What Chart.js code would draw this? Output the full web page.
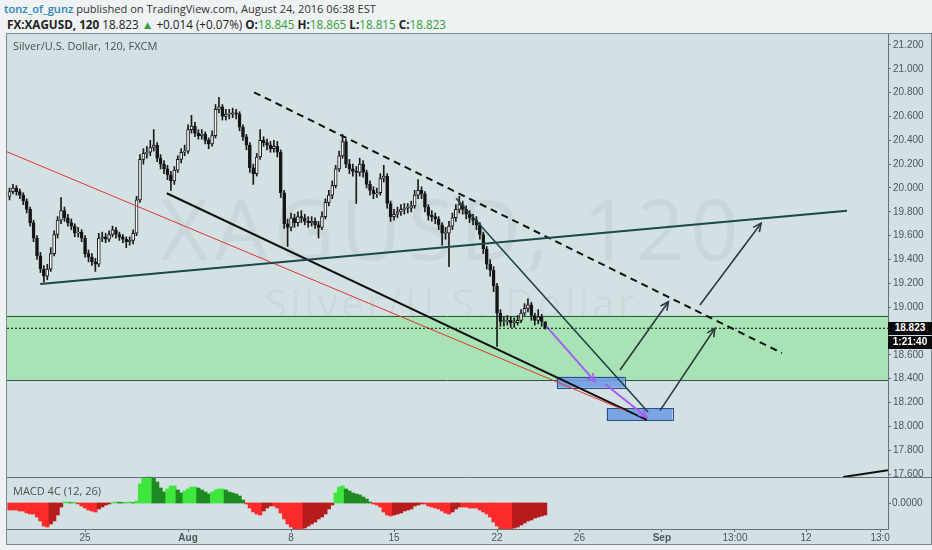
<!DOCTYPE html>
<html>
<head>
<meta charset="utf-8">
<script src="https://cdn.jsdelivr.net/npm/chart.js"></script>
<style>
  html, body { margin: 0; padding: 0; background: #eef2f3; }
  body { width: 932px; height: 550px; position: relative; overflow: hidden; font-family: "Open Sans", sans-serif; }
  #hdr1 { position: absolute; left: 4px; top: 1px; font-size: 11.1px; color: #333; white-space: nowrap; }
  #hdr1 .user { color: #2a80b9; font-weight: 600; }
  #hdr2 { position: absolute; left: 7px; top: 16px; font-size: 11.7px; color: #222; white-space: nowrap; }
  #hdr2 b { font-weight: 700; }
  #hdr2 .g { color: #35a03a; }
  #frame { position: absolute; left: 6px; top: 33px; width: 926px; height: 512px; background: #d3e1e4; border: 1px solid #7d888c; box-sizing: border-box; }
  #wm1 { position: absolute; left: 160px; top: 170px; font-size: 84px; letter-spacing: 6px; color: rgba(0,0,0,0.045); white-space: nowrap; }
  #wm2 { position: absolute; left: 265px; top: 275px; font-size: 40px; letter-spacing: 3.5px; color: rgba(0,0,0,0.045); white-space: nowrap; }
  canvas { position: absolute; left: 0; top: 0; }
  .pane { position: absolute; left: 13px; font-size: 11px; color: #4a4f52; white-space: nowrap; }
  .tag { position: absolute; left: 888px; width: 44px; height: 13px; line-height: 13px; background: #0b0b0b; color: #fff; font: bold 10px "Liberation Sans", Arial, sans-serif; text-align: center; }
  #macdZero { position: absolute; left: 892px; font: 10px "Liberation Sans", Arial, sans-serif; color: #4d5558; }
</style>
</head>
<body>
<div id="hdr1"><span class="user">tonz_of_gunz</span> published on TradingView.com, August 24, 2016 06:38 EST</div>
<div id="hdr2"><b>FX:XAGUSD, 120</b> 18.823 <span class="g">▲</span> +0.014 (+0.07%) <b>O:</b><span class="g">18.845</span> <b>H:</b><span class="g">18.865</span> <b>L:</b><span class="g">18.815</span> <b>C:</b><span class="g">18.823</span></div>
<div id="frame"></div>
<div id="wm1">XAGUSD, 120</div>
<div id="wm2">Silver/U.S. Dollar</div>
<canvas id="chart" width="932" height="550"></canvas>
<div class="pane" style="top:38px">Silver/U.S. Dollar, 120, FXCM</div>
<div class="pane" style="top:483px">MACD 4C (12, 26)</div>
<div class="tag" id="lastTag">18.823</div>
<div class="tag" id="timeTag">1:21:40</div>
<div id="macdZero">0.0000</div>
<script>
// 4h candles, x = trading days counted from Mon 25 Jul 2016
const firstBarDay = -3.667;
const firstOpen = 19.93;

const closes = [19.97, 20.00, 19.97, 19.94, 19.89, 19.82, 19.71, 19.58, 19.43, 19.32,
  19.26, 19.32, 19.45, 19.61, 19.73, 19.81, 19.75, 19.71, 19.68, 19.62,
  19.63, 19.58, 19.45, 19.42, 19.38, 19.36, 19.58, 19.59, 19.57, 19.61,
  19.65, 19.61, 19.59, 19.57, 19.55, 19.56, 19.62, 19.90, 20.24, 20.29,
  20.30, 20.34, 20.36, 20.25, 20.20, 20.16, 20.11, 20.06, 20.15, 20.24,
  20.30, 20.31, 20.49, 20.52, 20.46, 20.44, 20.45, 20.40, 20.37, 20.44,
  20.66, 20.68, 20.60, 20.62, 20.62, 20.63, 20.62, 20.51, 20.43, 20.36,
  20.17, 20.12, 20.26, 20.40, 20.38, 20.36, 20.33, 20.35, 20.30, 19.96,
  19.70, 19.67, 19.75, 19.71, 19.76, 19.75, 19.72, 19.71, 19.72, 19.69,
  19.67, 19.76, 19.88, 19.94, 20.02, 20.16, 20.27, 20.39, 20.20, 20.16,
  20.14, 20.13, 20.20, 20.13, 20.03, 19.98, 19.95, 19.96, 20.08, 20.10,
  19.87, 19.76, 19.78, 19.80, 19.82, 19.83, 19.83, 19.85, 19.94, 19.98,
  19.95, 19.84, 19.77, 19.76, 19.74, 19.69, 19.62, 19.62, 19.68, 19.75,
  19.82, 19.86, 19.82, 19.78, 19.75, 19.73, 19.69, 19.61, 19.49, 19.36,
  19.31, 19.18, 18.95, 18.88, 18.88, 18.89, 18.87, 18.87, 18.89, 18.95,
  18.99, 19.02, 18.93, 18.89, 18.92, 18.88, 18.823];

const highs = [20.00, 20.03, 20.02, 19.99, 19.96, 19.91, 19.84, 19.73, 19.60, 19.46,
  19.35, 19.36, 19.50, 19.64, 19.76, 19.92, 19.84, 19.78, 19.74, 19.70,
  19.67, 19.65, 19.60, 19.48, 19.45, 19.41, 19.62, 19.63, 19.62, 19.64,
  19.68, 19.67, 19.63, 19.61, 19.59, 19.59, 19.65, 19.93, 20.28, 20.33,
  20.35, 20.40, 20.49, 20.38, 20.28, 20.23, 20.19, 20.14, 20.18, 20.27,
  20.33, 20.36, 20.53, 20.61, 20.55, 20.49, 20.49, 20.47, 20.42, 20.48,
  20.70, 20.76, 20.70, 20.66, 20.66, 20.67, 20.66, 20.64, 20.53, 20.45,
  20.38, 20.20, 20.29, 20.49, 20.43, 20.41, 20.39, 20.40, 20.39, 20.32,
  19.98, 19.74, 19.79, 19.78, 19.80, 19.81, 19.78, 19.76, 19.76, 19.75,
  19.72, 19.80, 19.91, 19.98, 20.06, 20.19, 20.31, 20.45, 20.41, 20.24,
  20.20, 20.18, 20.25, 20.23, 20.15, 20.06, 20.01, 20.00, 20.12, 20.19,
  20.12, 19.89, 19.82, 19.84, 19.86, 19.87, 19.87, 19.89, 19.98, 20.07,
  20.01, 19.97, 19.86, 19.81, 19.79, 19.76, 19.71, 19.67, 19.72, 19.79,
  19.86, 19.93, 19.89, 19.85, 19.81, 19.78, 19.76, 19.71, 19.63, 19.51,
  19.40, 19.34, 19.20, 18.98, 18.92, 18.93, 18.92, 18.91, 18.93, 18.98,
  19.03, 19.07, 19.04, 18.95, 18.98, 18.94, 18.865];

const lows = [19.90, 19.95, 19.94, 19.91, 19.86, 19.79, 19.68, 19.55, 19.40, 19.29,
  19.21, 19.23, 19.30, 19.43, 19.58, 19.70, 19.72, 19.68, 19.65, 19.59,
  19.59, 19.55, 19.42, 19.38, 19.35, 19.30, 19.34, 19.55, 19.54, 19.55,
  19.59, 19.58, 19.56, 19.54, 19.50, 19.52, 19.53, 19.60, 19.88, 20.20,
  20.25, 20.27, 20.31, 20.22, 20.16, 20.12, 20.07, 19.98, 20.03, 20.13,
  20.21, 20.27, 20.29, 20.46, 20.43, 20.41, 20.41, 20.37, 20.33, 20.35,
  20.42, 20.63, 20.57, 20.57, 20.58, 20.59, 20.58, 20.48, 20.40, 20.32,
  20.13, 20.03, 20.10, 20.24, 20.35, 20.32, 20.30, 20.30, 20.26, 19.92,
  19.66, 19.51, 19.64, 19.67, 19.68, 19.71, 19.69, 19.67, 19.68, 19.66,
  19.58, 19.65, 19.74, 19.85, 19.91, 20.00, 20.14, 20.25, 20.17, 20.12,
  20.10, 19.87, 20.10, 20.09, 20.00, 19.94, 19.91, 19.92, 19.94, 20.05,
  19.83, 19.72, 19.73, 19.75, 19.77, 19.78, 19.79, 19.80, 19.83, 19.91,
  19.91, 19.80, 19.73, 19.72, 19.70, 19.65, 19.52, 19.57, 19.34, 19.65,
  19.72, 19.79, 19.78, 19.74, 19.71, 19.69, 19.65, 19.57, 19.45, 19.32,
  19.26, 19.13, 18.67, 18.84, 18.84, 18.85, 18.83, 18.83, 18.85, 18.87,
  18.93, 18.96, 18.89, 18.85, 18.86, 18.84, 18.815];

const macdHist = [-0.035, -0.035, -0.035, -0.04, -0.04, -0.05, -0.055, -0.055, -0.07, -0.09,
  -0.115, -0.12, -0.105, -0.09, -0.06, -0.02, 0.005, 0.005, 0.002, 0.004,
  -0.005, -0.015, -0.025, -0.035, -0.04, -0.045, -0.03, -0.02, -0.01, -0.005,
  0.002, 0.005, 0.004, 0.002, 0.004, 0.005, 0.002, 0.01, 0.095, 0.125,
  0.13, 0.13, 0.125, 0.105, 0.075, 0.055, 0.07, 0.085, 0.085, 0.065,
  0.05, 0.06, 0.07, 0.08, 0.08, 0.075, 0.065, 0.055, 0.045, 0.055,
  0.065, 0.07, 0.07, 0.065, 0.055, 0.05, 0.045, 0.035, 0.015, -0.005,
  -0.025, -0.045, -0.055, -0.06, -0.04, -0.025, -0.015, -0.015, -0.025, -0.05,
  -0.08, -0.105, -0.12, -0.13, -0.13, -0.13, -0.125, -0.115, -0.105, -0.095,
  -0.08, -0.07, -0.055, -0.03, -0.01, 0.05, 0.08, 0.085, 0.07, 0.06,
  0.05, 0.045, 0.04, 0.03, 0.02, 0.005, -0.005, -0.01, -0.02, -0.045,
  -0.06, -0.065, -0.06, -0.055, -0.05, -0.04, -0.035, -0.03, -0.015, -0.01,
  -0.005, -0.005, -0.015, -0.02, -0.025, -0.03, -0.04, -0.05, -0.055, -0.045,
  -0.03, -0.02, -0.02, -0.02, -0.025, -0.025, -0.025, -0.035, -0.045, -0.055,
  -0.07, -0.095, -0.115, -0.13, -0.13, -0.13, -0.13, -0.125, -0.12, -0.11,
  -0.1, -0.09, -0.085, -0.075, -0.07, -0.065, -0.06];

const priceTicks = [17.6, 17.8, 18.0, 18.2, 18.4, 18.6, 18.8, 19.0, 19.2, 19.4,
  19.6, 19.8, 20.0, 20.2, 20.4, 20.6, 20.8, 21.0, 21.2];
const dayTicks = [0, 5, 10, 15, 20, 24, 28, 31.55, 35, 38.6];
const dayTickLabels = ['25', 'Aug', '8', '15', '22', '26', 'Sep', '13:00', '12', '13:0'];

const lastPrice = 18.823;
const xMin = -3.79, xMax = 38.98;
const priceMin = 17.139, priceMax = 21.292;
const macdMin = -0.13, macdMax = 2.345, macdPaneTop = 0.13;

// drawings: [day, price] points
const zoneRange = [18.39, 18.93];
const boxes = [[22.90, 18.417, 26.18, 18.325], [25.32, 18.152, 28.51, 18.048]];
const supportLine = [[-2.18, 19.195], [36.99, 19.81]];
const redLine = [[-3.806, 20.305], [26.26, 18.13]];
const lowerLine = [[3.966, 19.956], [27.27, 18.054]];
const resistanceLine = [[8.204, 20.803], [33.83, 18.615]];
const dropLine = [[18.01, 19.914], [27.33, 18.121]];
const cornerLine = [[36.80, 17.575], [38.98, 17.632]];
const purpleArrows = [[[22.41, 18.837], [24.76, 18.375]], [[25.24, 18.356], [27.27, 18.077]]];
const upArrows = [[[25.97, 18.473], [28.32, 19.046]], [[27.91, 18.132], [30.58, 18.823]], [[29.85, 19.019], [32.82, 19.704]]];

const barTimes = closes.map((c, i) => firstBarDay + i / 6);
const opens = closes.map((c, i) => i ? closes[i - 1] : firstOpen);

function lineSet(points, color, width, dash) {
    return {
        type: 'line',
        data: points.map(p => ({ x: p[0], y: p[1] })),
        borderColor: color,
        borderWidth: width,
        borderDash: dash || [],
        pointRadius: 0,
        fill: false,
        tension: 0,
        order: 1
    };
}

const axisColor = '#66717a';
const tickFont = { family: 'Liberation Sans', size: 10 };

const drawings = {
    id: 'drawings',
    beforeDatasetsDraw(chart) {
        const { ctx, chartArea: a, scales: { x, y } } = chart;
        ctx.save();
        const zt = y.getPixelForValue(zoneRange[1]), zb = y.getPixelForValue(zoneRange[0]);
        ctx.fillStyle = '#a8e3b6';
        ctx.fillRect(a.left, zt, a.right - a.left, zb - zt);
        ctx.strokeStyle = '#2d5640';
        ctx.lineWidth = 1;
        ctx.beginPath();
        ctx.moveTo(a.left, Math.round(zt) + 0.5); ctx.lineTo(a.right, Math.round(zt) + 0.5);
        ctx.moveTo(a.left, Math.round(zb) + 0.5); ctx.lineTo(a.right, Math.round(zb) + 0.5);
        ctx.stroke();
        boxes.forEach(b => {
            const x0 = x.getPixelForValue(b[0]), y0 = y.getPixelForValue(b[1]);
            const x1 = x.getPixelForValue(b[2]), y1 = y.getPixelForValue(b[3]);
            ctx.fillStyle = 'rgba(112,158,226,0.9)';
            ctx.fillRect(x0, y0, x1 - x0, y1 - y0);
            ctx.strokeStyle = '#2d4f86';
            ctx.strokeRect(Math.round(x0) + 0.5, Math.round(y0) + 0.5, Math.round(x1 - x0), Math.round(y1 - y0));
        });
        ctx.restore();
    },
    afterDatasetsDraw(chart) {
        const { ctx, scales: { x, y } } = chart;
        ctx.save();
        const head = (arr, color) => arr.forEach(([p, q]) => {
            const x0 = x.getPixelForValue(p[0]), y0 = y.getPixelForValue(p[1]);
            const x1 = x.getPixelForValue(q[0]), y1 = y.getPixelForValue(q[1]);
            const ang = Math.atan2(y1 - y0, x1 - x0);
            ctx.strokeStyle = color;
            ctx.lineWidth = 1.6;
            ctx.beginPath();
            ctx.moveTo(x1 - 9 * Math.cos(ang - 0.45), y1 - 9 * Math.sin(ang - 0.45));
            ctx.lineTo(x1, y1);
            ctx.lineTo(x1 - 9 * Math.cos(ang + 0.45), y1 - 9 * Math.sin(ang + 0.45));
            ctx.stroke();
        });
        head(purpleArrows, '#a55cf2');
        head(upArrows, '#2b3a3c');
        ctx.restore();
    },
    afterDraw(chart) {
        const { ctx, chartArea: a, scales: { yMacd } } = chart;
        ctx.save();
        ctx.strokeStyle = axisColor;
        ctx.lineWidth = 1;
        const sep = Math.round(yMacd.getPixelForValue(macdPaneTop)) + 0.5;
        const zero = Math.round(yMacd.getPixelForValue(0)) + 0.5;
        ctx.beginPath();
        ctx.moveTo(a.left, sep); ctx.lineTo(chart.width, sep);
        ctx.moveTo(a.right, zero); ctx.lineTo(a.right + 3, zero);
        ctx.stroke();
        ctx.restore();
    }
};

const chart = new Chart(document.getElementById('chart'), {
    type: 'bar',
    data: {
        datasets: [
            {
                data: barTimes.map((t, i) => ({ x: t, y: [lows[i], highs[i]] })),
                backgroundColor: '#1a1a1a',
                barThickness: 1,
                grouped: false,
                order: 6
            },
            {
                data: barTimes.map((t, i) => ({ x: t, y: [opens[i], closes[i]] })),
                backgroundColor: c => closes[c.dataIndex] >= opens[c.dataIndex] ? '#f4f4f4' : '#141414',
                borderColor: '#1a1a1a',
                borderWidth: 1,
                borderSkipped: false,
                minBarLength: 1,
                barThickness: 3,
                grouped: false,
                order: 5
            },
            {
                yAxisID: 'yMacd',
                data: barTimes.map((t, i) => ({ x: t, y: macdHist[i] })),
                backgroundColor: c => {
                    const i = c.dataIndex, v = macdHist[i], prev = i ? macdHist[i - 1] : v;
                    if (v >= 0) return v >= prev ? '#3ee63e' : '#1f8a22';
                    return v > prev ? '#b71c1c' : '#fb2b2b';
                },
                barThickness: 3.6,
                grouped: false,
                order: 6
            },
            lineSet([[xMin, lastPrice], [xMax, lastPrice]], '#111', 1, [2, 2]),
            lineSet(supportLine, '#1d4848', 2),
            lineSet(redLine, '#e2342c', 1),
            lineSet(lowerLine, '#111', 2),
            lineSet(resistanceLine, '#111', 2, [7, 5]),
            lineSet(dropLine, '#1e4444', 1.6),
            lineSet(cornerLine, '#111', 2),
            ...purpleArrows.map(a => lineSet(a, '#a55cf2', 2)),
            ...upArrows.map(a => lineSet(a, '#2b3a3c', 1.6))
        ]
    },
    options: {
        responsive: false,
        animation: false,
        devicePixelRatio: 1,
        layout: { padding: { left: 7, top: 34, right: 0, bottom: 6 } },
        plugins: { legend: { display: false }, tooltip: { enabled: false } },
        scales: {
            x: {
                type: 'linear',
                min: xMin,
                max: xMax,
                offset: false,
                afterBuildTicks: s => { s.ticks = dayTicks.map(v => ({ value: v })); },
                afterFit: s => { s.height = 15; },
                grid: { drawOnChartArea: false, tickLength: 3, color: axisColor, offset: false },
                border: { color: axisColor },
                ticks: {
                    autoSkip: false,
                    maxRotation: 0,
                    padding: 0,
                    color: '#4d5558',
                    font: c => ({ family: 'Liberation Sans', size: 10, weight: /[A-Za-z]/.test(dayTickLabels[c.index] || '') ? 'bold' : 'normal' }),
                    callback: (v, i) => dayTickLabels[i]
                }
            },
            y: {
                position: 'right',
                min: priceMin,
                max: priceMax,
                afterBuildTicks: s => { s.ticks = priceTicks.map(v => ({ value: v })); },
                afterFit: s => { s.width = 44; },
                grid: { drawOnChartArea: false, tickLength: 3, color: axisColor },
                border: { color: axisColor },
                ticks: {
                    autoSkip: false,
                    padding: 2,
                    color: '#4d5558',
                    font: tickFont,
                    callback: v => v.toFixed(3)
                }
            },
            yMacd: {
                display: false,
                min: macdMin,
                max: macdMax
            }
        }
    },
    plugins: [drawings]
});

// price tags on the right axis, placed from the scales
const lastY = chart.scales.y.getPixelForValue(lastPrice);
document.getElementById('lastTag').style.top = (lastY - 6) + 'px';
document.getElementById('timeTag').style.top = (lastY + 8) + 'px';
document.getElementById('macdZero').style.top = (chart.scales.yMacd.getPixelForValue(0) - 6) + 'px';
</script>
</body>
</html>
